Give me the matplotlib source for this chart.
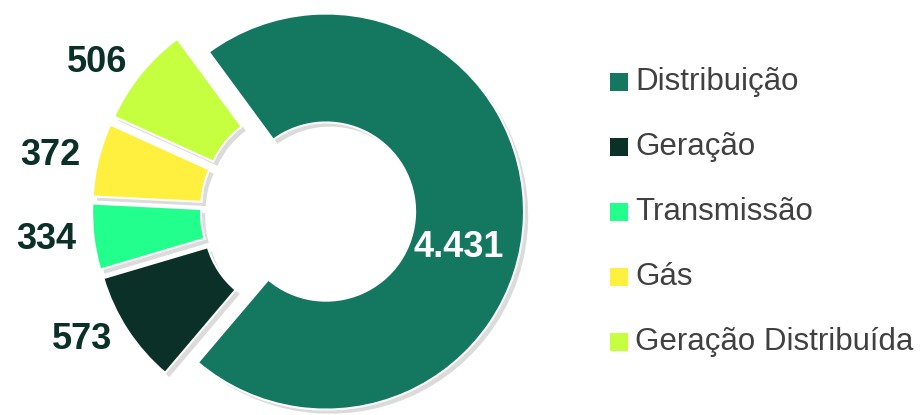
import numpy as np
import matplotlib.pyplot as plt

plt.rcParams['font.family'] = ['Liberation Sans', 'DejaVu Sans']

categorias = ["Distribuição", "Geração", "Transmissão", "Gás", "Geração Distribuída"]
valores = [4431, 573, 334, 372, 506]
cores = ["#13785F", "#0A3028", "#22FF8C", "#FFF040", "#C5FF40"]

def fmt(v):
    return f"{v:,}".replace(",", ".")

fig = plt.figure(figsize=(9.21, 4.15), dpi=100)
ax = fig.add_axes([0, 0, 1, 1])

centro = (310, 204)
raio = 198
# deslocamento das fatias (em unidades de dados = pixels)
explode = [16, 20, 20, 20, 20]
rotulos = [""] + [fmt(v) for v in valores[1:]]

wedges, texts = ax.pie(valores, colors=cores, startangle=126.3, counterclock=False,
                       center=centro, radius=raio, explode=explode,
                       labels=rotulos, labeldistance=1.09,
                       wedgeprops=dict(width=raio * 0.55, edgecolor="white", linewidth=1.5),
                       shadow=dict(ox=3, oy=-3, facecolor="#9a9a9a", edgecolor="none", alpha=0.35),
                       textprops=dict(fontsize=26, fontweight="bold", color="#0B3028"))
for t in texts:
    t.set_horizontalalignment("right")
ax.set_xlim(0, 921)
ax.set_ylim(0, 415)
ax.set_aspect("equal")
ax.axis("off")

# rótulo grande dentro da fatia principal
ang = np.deg2rad(-15.5)
ax.text(centro[0] + 16 + 138 * np.cos(ang), centro[1] + 138 * np.sin(ang), fmt(valores[0]),
        ha="center", va="center", fontsize=26, fontweight="bold", color="white")

# legenda
for i, (nome, cor) in enumerate(zip(categorias, cores)):
    y = 415 - (82 + i * 65)
    ax.scatter(619, y, marker="s", s=150, color=cor, linewidths=0)
    ax.text(635, y, nome, ha="left", va="center", fontsize=22.5, color="#404040")

fig.savefig("out.png", dpi=100)
